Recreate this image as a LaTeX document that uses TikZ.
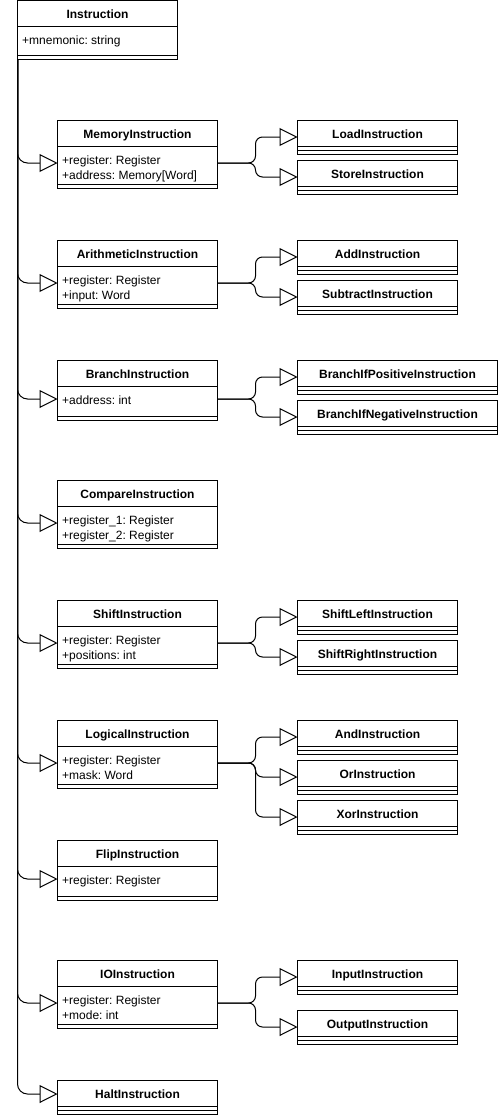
\documentclass[tikz,border=0pt]{standalone}
\usepackage{fontspec}
\setmainfont{Liberation Sans}
\usetikzlibrary{arrows.meta}
\frenchspacing

\tikzset{
  classbox/.style={draw, line width=1pt, anchor=north west, inner sep=0pt, outer sep=0pt},
  classname/.style={font=\fontsize{12}{14}\selectfont\bfseries, anchor=base, inner sep=0pt},
  attrtext/.style={font=\fontsize{12}{14}\selectfont, anchor=base west, inner sep=0pt},
  gen/.style={line width=1pt, rounded corners=10pt, -{Triangle[length=18pt,width=18pt,fill=white]}},
}

% [width]{name}{x}{top}{height}{link offset}{title}
\newcommand{\umlclass}[7][160]{%
  \node[classbox, minimum width=#1pt, minimum height=#5pt] (#2) at (#3,#4) {};
  \node[classname] (#2-title) at ([yshift=-18pt]#2.north) {#7};
  \draw[line width=1pt] ([yshift=-26pt]#2.north west) -- ([yshift=-26pt]#2.north east);
  \draw[line width=1pt] ([yshift=4pt]#2.south west) -- ([yshift=4pt]#2.south east);
  \coordinate (#2-in) at ([yshift=-#6pt]#2.north west);
  \coordinate (#2-out) at ([yshift=-#6pt]#2.north east);
}
\newcommand{\umlattrs}[2]{%
  \foreach \a [count=\i] in {#2}
    \node[attrtext] (#1-attr\i) at ([xshift=4.5pt,yshift={-29pt-15pt*\i}]#1.north west) {\a};
}

\begin{document}
\begin{tikzpicture}[x=1pt,y=-1pt]
\useasboundingbox (0,0) rectangle (498,1116);

% base class
\umlclass{inst}{17.5}{0.5}{59}{39}{Instruction}
\umlattrs{inst}{+mnemonic: string}

% direct subclasses
\umlclass{mem}{57.5}{120}{68}{43}{MemoryInstruction}
\umlattrs{mem}{+register: Register, +address: Memory[Word]}
\umlclass{arith}{57.5}{240}{68}{43}{ArithmeticInstruction}
\umlattrs{arith}{+register: Register, +input: Word}
\umlclass{branch}{57.5}{360}{60}{39}{BranchInstruction}
\umlattrs{branch}{+address: int}
\umlclass{cmp}{57.5}{480}{68}{43}{CompareInstruction}
\umlattrs{cmp}{+register\_1: Register, +register\_2: Register}
\umlclass{shift}{57.5}{600}{68}{43}{ShiftInstruction}
\umlattrs{shift}{+register: Register, +positions: int}
\umlclass{logic}{57.5}{720}{68}{43}{LogicalInstruction}
\umlattrs{logic}{+register: Register, +mask: Word}
\umlclass{flip}{57.5}{840}{60}{39}{FlipInstruction}
\umlattrs{flip}{+register: Register}
\umlclass{io}{57.5}{960}{68}{43}{IOInstruction}
\umlattrs{io}{+register: Register, +mode: int}
\umlclass{halt}{57.5}{1080}{34}{14}{HaltInstruction}

% leaf classes
\umlclass{load}{297.5}{120}{34}{17}{LoadInstruction}
\umlclass{store}{297.5}{160}{34}{17}{StoreInstruction}
\umlclass{add}{297.5}{240}{34}{17}{AddInstruction}
\umlclass{sub}{297.5}{280}{34}{17}{SubtractInstruction}
\umlclass[200]{bpos}{297.5}{360}{34}{17}{BranchIfPositiveInstruction}
\umlclass[200]{bneg}{297.5}{400}{34}{17}{BranchIfNegativeInstruction}
\umlclass{shl}{297.5}{600}{34}{17}{ShiftLeftInstruction}
\umlclass{shr}{297.5}{640}{34}{17}{ShiftRightInstruction}
\umlclass{and}{297.5}{720}{34}{17}{AndInstruction}
\umlclass{or}{297.5}{760}{34}{17}{OrInstruction}
\umlclass{xor}{297.5}{800}{34}{17}{XorInstruction}
\umlclass{input}{297.5}{960}{34}{17}{InputInstruction}
\umlclass{output}{297.5}{1010}{34}{17}{OutputInstruction}

% generalizations
\foreach \c in {mem,arith,branch,cmp,shift,logic,flip,io,halt}
  \draw[gen] (inst.south west) |- (\c-in);
\foreach \p/\c in {mem/load,mem/store,arith/add,arith/sub,branch/bpos,branch/bneg,
                   shift/shl,shift/shr,logic/and,logic/or,logic/xor,io/input,io/output}
  \draw[gen, rounded corners=7pt] (\p-out) -| ([xshift=-42pt]\c-in) -- (\c-in);
\end{tikzpicture}
\end{document}
